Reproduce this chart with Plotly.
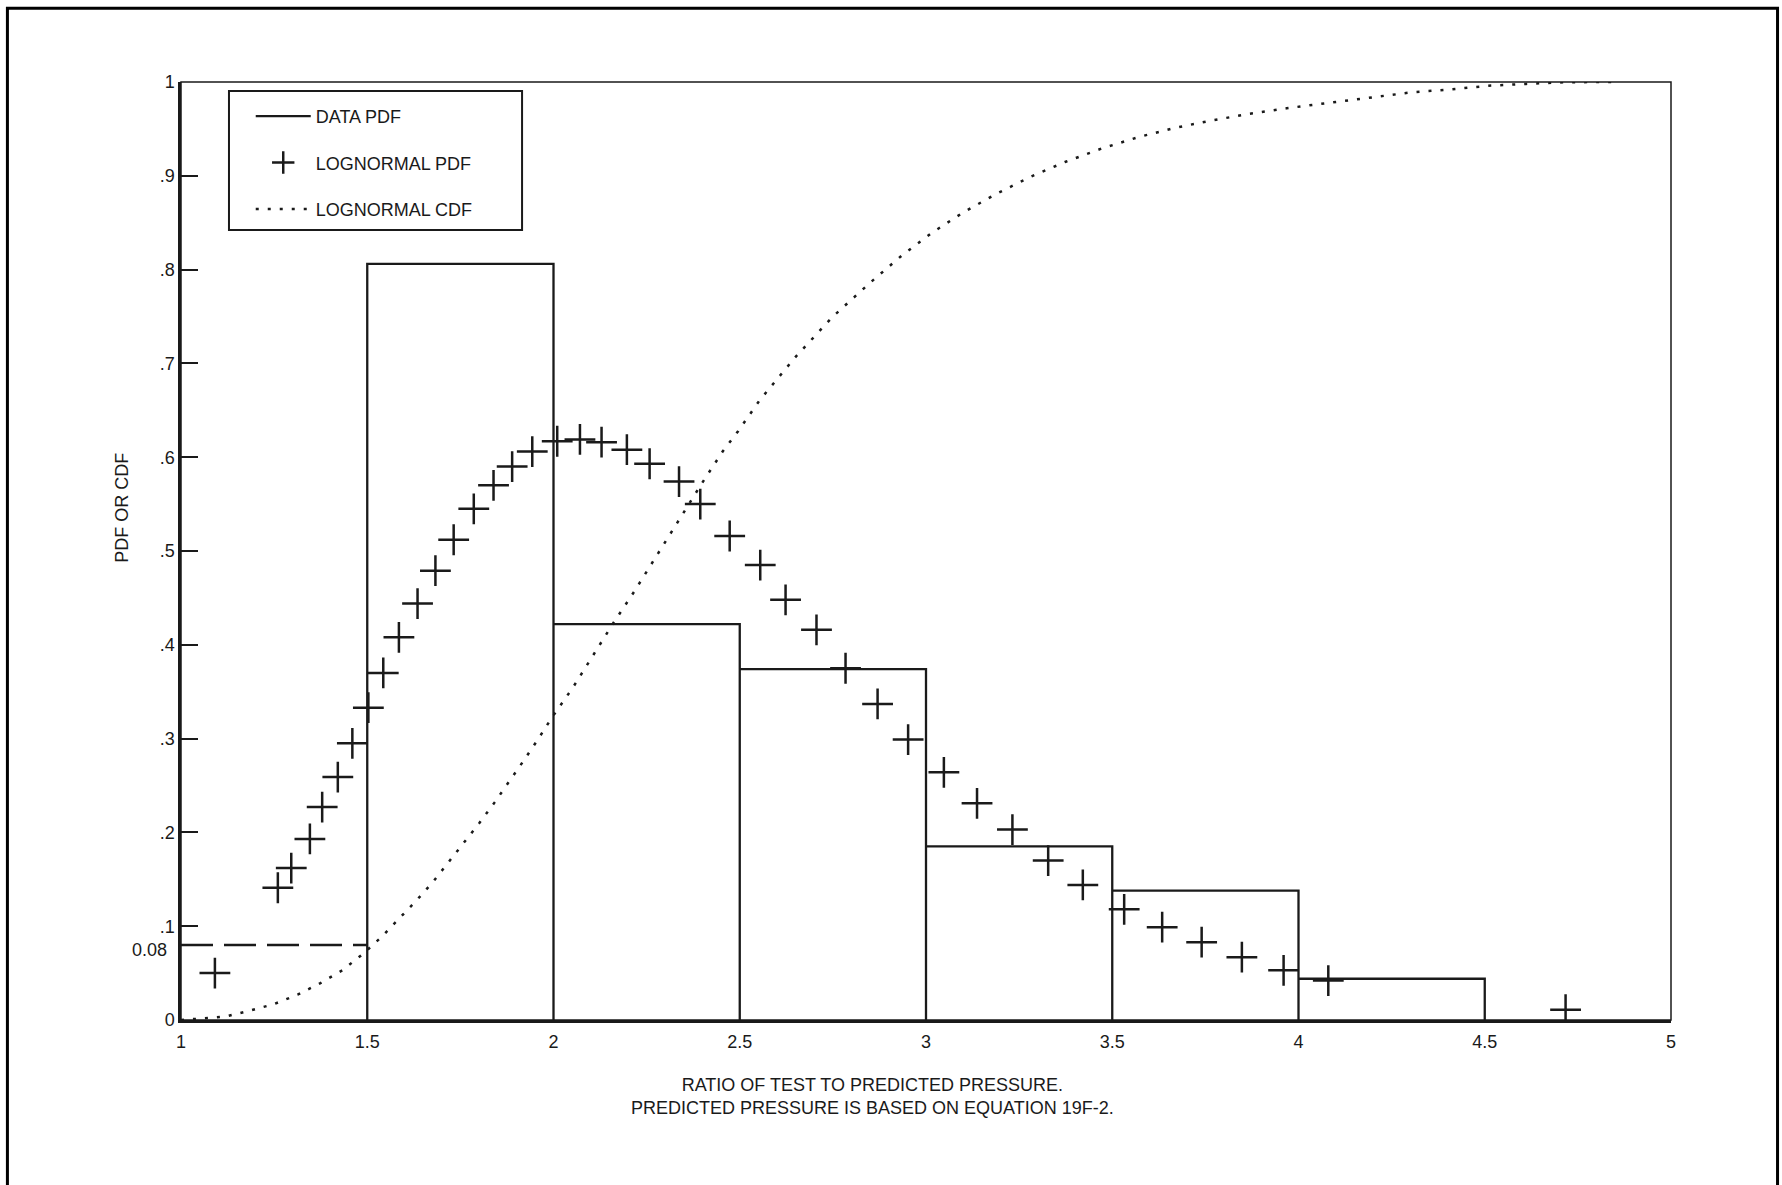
import plotly.graph_objects as go

# ---------------- data ----------------
bin_edges = [1.5, 2.0, 2.5, 3.0, 3.5, 4.0, 4.5]
data_pdf = [0.806, 0.422, 0.374, 0.185, 0.138, 0.044]

ref_x = [1.0, 1.5]
ref_y = [0.08, 0.08]

pdf_x = [1.091, 1.260, 1.296, 1.346, 1.379, 1.421, 1.460, 1.503, 1.543, 1.585,
         1.635, 1.683, 1.732, 1.786, 1.839, 1.889, 1.943, 2.010, 2.071, 2.129,
         2.197, 2.258, 2.337, 2.394, 2.473, 2.555, 2.623, 2.706, 2.784, 2.870,
         2.952, 3.048, 3.137, 3.232, 3.328, 3.421, 3.532, 3.634, 3.740, 3.848,
         3.960, 4.080, 4.717]
pdf_y = [0.050, 0.141, 0.162, 0.193, 0.227, 0.259, 0.295, 0.333, 0.370, 0.408,
         0.444, 0.479, 0.512, 0.545, 0.570, 0.590, 0.606, 0.617, 0.619, 0.616,
         0.608, 0.593, 0.574, 0.550, 0.516, 0.485, 0.448, 0.416, 0.375, 0.337,
         0.299, 0.264, 0.231, 0.203, 0.170, 0.144, 0.118, 0.099, 0.083, 0.067,
         0.053, 0.042, 0.011]

cdf_x = [1.0, 1.118, 1.185, 1.250, 1.313, 1.373, 1.433, 1.487, 1.537, 1.583,
         1.631, 1.676, 1.718, 1.760, 1.801, 1.842, 1.881, 1.919, 1.958, 1.995,
         2.053, 2.107, 2.162, 2.217, 2.273, 2.326, 2.362, 2.398, 2.454, 2.496,
         2.554, 2.65, 2.75, 2.85, 2.935, 3.015, 3.100, 3.190, 3.281, 3.375,
         3.471, 3.568, 3.667, 3.767, 3.867, 3.968, 4.069, 4.203, 4.304, 4.407,
         4.510, 4.611, 4.711, 4.814, 4.848]
cdf_y = [0.0, 0.0035, 0.010, 0.017, 0.027, 0.039, 0.053, 0.070, 0.088, 0.107,
         0.127, 0.147, 0.168, 0.189, 0.210, 0.232, 0.254, 0.276, 0.299, 0.322,
         0.355, 0.389, 0.424, 0.457, 0.492, 0.526, 0.549, 0.572, 0.606, 0.628,
         0.661, 0.707, 0.750, 0.786, 0.815, 0.839, 0.861, 0.881, 0.899, 0.915,
         0.929, 0.941, 0.951, 0.959, 0.966, 0.972, 0.977, 0.984, 0.989, 0.992,
         0.996, 0.998, 0.9997, 1.0, 1.0]

x_tickvals = [1, 1.5, 2, 2.5, 3, 3.5, 4, 4.5, 5]
x_ticktext = ["1", "1.5", "2", "2.5", "3", "3.5", "4", "4.5", "5"]
y_tickvals = [0, 0.1, 0.2, 0.3, 0.4, 0.5, 0.6, 0.7, 0.8, 0.9, 1.0]
y_ticktext = ["0", ".1", ".2", ".3", ".4", ".5", ".6", ".7", ".8", ".9", "1"]

# ---------------- build histogram outline path from bins ----------------
step_x, step_y = [], []
for i, h in enumerate(data_pdf):
    lo, hi = bin_edges[i], bin_edges[i + 1]
    step_x += [lo, lo, hi, hi]
    step_y += [0, h, h, 0]

FONT = "Liberation Sans, Arial, sans-serif"
FS = 18
INK = "#1a1a1a"

fig = go.Figure()

fig.add_trace(go.Scatter(
    x=step_x, y=step_y, mode="lines", name="DATA PDF",
    line=dict(color=INK, width=2.3), legendgroup="a"))

fig.add_trace(go.Scatter(
    x=pdf_x, y=pdf_y, mode="markers", name="LOGNORMAL PDF",
    marker=dict(symbol="cross-thin", size=22, color=INK,
                line=dict(color=INK, width=2.5)), legendgroup="b"))

fig.add_trace(go.Scatter(
    x=cdf_x, y=cdf_y, mode="lines", name="LOGNORMAL CDF",
    line=dict(color=INK, width=2.5, dash="3px,9px"), legendgroup="c"))

fig.add_trace(go.Scatter(
    x=ref_x, y=ref_y, mode="lines", showlegend=False,
    line=dict(color=INK, width=2.5, dash="32px,11px")))

fig.update_layout(
    width=1782, height=1185, autosize=False,
    margin=dict(l=181, r=111, t=82, b=165),
    paper_bgcolor="white", plot_bgcolor="white",
    font=dict(family=FONT, size=FS, color=INK),
    showlegend=True,
    legend=dict(x=0.0468, y=0.983, xanchor="left", yanchor="top",
                borderwidth=0, bgcolor="rgba(0,0,0,0)",
                font=dict(family=FONT, size=FS, color=INK),
                traceorder="grouped", tracegroupgap=20,
                itemwidth=55),
    xaxis=dict(range=[1, 5], tickvals=x_tickvals, ticktext=x_ticktext,
               showgrid=False, zeroline=False, showline=True,
               linecolor=INK, linewidth=3, ticks="", ticklabelstandoff=3,
               tickfont=dict(family=FONT, size=FS, color=INK)),
    yaxis=dict(range=[0, 1], tickvals=y_tickvals, ticktext=y_ticktext,
               showgrid=False, zeroline=False, showline=True,
               linecolor=INK, linewidth=2.5, ticks="inside", ticklen=17,
               tickwidth=1.5, tickcolor=INK,
               tickfont=dict(family=FONT, size=FS, color=INK)),
)

# plot-area frame (top & right thinner lines)
fig.add_shape(type="rect", xref="paper", yref="paper", x0=0, y0=0, x1=1, y1=1,
              line=dict(color=INK, width=1.5), layer="above")
# legend box
fig.add_shape(type="rect", xref="paper", yref="paper",
              x0=0.0322, y0=0.8422, x1=0.2289, y1=0.9904,
              line=dict(color=INK, width=2), fillcolor="white", layer="above")
# outer page frame (bottom runs off the page)
fig.add_shape(type="rect", xref="paper", yref="paper",
              x0=-0.1165, y0=-0.25, x1=1.0715, y1=1.0785,
              line=dict(color="black", width=3), layer="above")

fig.add_annotation(x=1, y=0.08, xref="x", yref="y", text="0.08",
                   showarrow=False, xanchor="right", xshift=-12, yshift=-5,
                   font=dict(family=FONT, size=FS, color=INK))
fig.add_annotation(x=0.4640, y=-0.057, xref="paper", yref="paper",
                   text="RATIO OF TEST TO PREDICTED PRESSURE.<br>PREDICTED PRESSURE IS BASED ON EQUATION 19F-2.",
                   showarrow=False, xanchor="center", yanchor="top",
                   font=dict(family=FONT, size=FS, color=INK))
fig.add_annotation(x=-0.0396, y=0.546, xref="paper", yref="paper",
                   text="PDF OR CDF", textangle=-90, showarrow=False,
                   xanchor="center", yanchor="middle",
                   font=dict(family=FONT, size=FS, color=INK))

fig.write_html("out.html", config={"displayModeBar": False},
               post_script="document.body.style.margin='0';")
